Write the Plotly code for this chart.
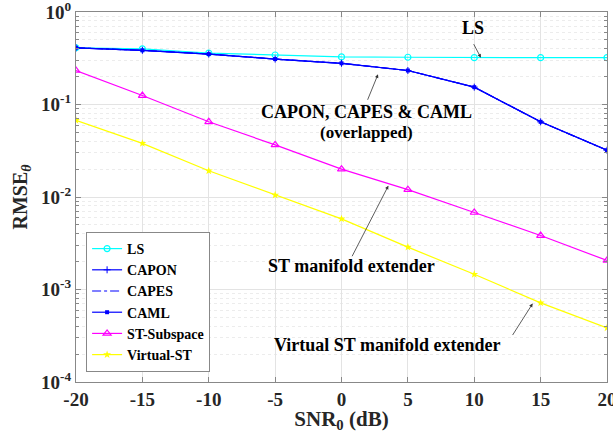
import plotly.graph_objects as go
import numpy as np

snr = [-20, -15, -10, -5, 0, 5, 10, 15, 20]
ls_vals = [0.41, 0.40, 0.36, 0.343, 0.327, 0.324, 0.321, 0.321, 0.321]
capon_vals = [0.41, 0.385, 0.351, 0.31, 0.279, 0.233, 0.154, 0.065, 0.032]
capes_vals = [0.41, 0.385, 0.351, 0.31, 0.279, 0.233, 0.154, 0.065, 0.032]
caml_vals = [0.41, 0.385, 0.351, 0.31, 0.279, 0.233, 0.154, 0.065, 0.032]
st_sub_vals = [0.233, 0.125, 0.065, 0.0366, 0.020, 0.012, 0.0068, 0.00383, 0.00206]
virtual_st_vals = [0.0675, 0.038, 0.0192, 0.0105, 0.0058, 0.00287, 0.00146, 0.000716, 0.000385]

x_ticks = [-20, -15, -10, -5, 0, 5, 10, 15, 20]
y_ticks = [1e-4, 1e-3, 1e-2, 1e-1, 1]
y_ticktext = ["10<sup>-4</sup>", "10<sup>-3</sup>", "10<sup>-2</sup>", "10<sup>-1</sup>", "10<sup>0</sup>"]
y_minor = [m * 10.0 ** e for e in range(-4, 0) for m in range(2, 10)]

FONT = "Liberation Serif"

fig = go.Figure()
fig.add_trace(go.Scatter(x=snr, y=ls_vals, name="LS", mode="lines+markers",
                         line=dict(color="#00FFFF", width=1.2),
                         marker=dict(symbol="circle-open", size=6, color="#00FFFF", line=dict(width=1.2))))
fig.add_trace(go.Scatter(x=snr, y=capon_vals, name="CAPON", mode="lines+markers",
                         line=dict(color="#0000FF", width=1.2),
                         marker=dict(symbol="cross-thin", size=5, color="#0000FF", line=dict(width=1, color="#0000FF"))))
fig.add_trace(go.Scatter(x=snr, y=capes_vals, name="CAPES", mode="lines",
                         line=dict(color="#0000FF", width=1.2, dash="dashdot")))
fig.add_trace(go.Scatter(x=snr, y=caml_vals, name="CAML", mode="lines+markers",
                         line=dict(color="#0000FF", width=1.2),
                         marker=dict(symbol="square", size=4, color="#0000FF")))
fig.add_trace(go.Scatter(x=snr, y=st_sub_vals, name="ST-Subspace", mode="lines+markers",
                         line=dict(color="#FF00FF", width=1.2),
                         marker=dict(symbol="triangle-up-open", size=7, color="#FF00FF", line=dict(width=1.2))))
fig.add_trace(go.Scatter(x=snr, y=virtual_st_vals, name="Virtual-ST", mode="lines+markers",
                         line=dict(color="#FFFF00", width=1.2),
                         marker=dict(symbol="star", size=6, color="#FFFF00")))

# Text labels (x in data units, y as log10 of value on the log axis)
texts = [
    ("LS", 9.9, -0.17, 18),
    ("CAPON, CAPES & CAML", 1.85, -1.085, 18),
    ("(overlapped)", 1.85, -1.307, 17),
    ("ST manifold extender", 0.72, -2.745, 18),
    ("Virtual ST manifold extender", 3.5, -3.605, 18),
]
for t, xv, yv, fs in texts:
    fig.add_annotation(x=xv, y=yv, text=t, showarrow=False,
                       font=dict(family=FONT, size=fs, color="black", weight="bold"), xref="x", yref="y")

# Arrows (tip in data coords, tail as pixel offset)
arrows = [
    (10.5, 0.321, -8, -15),
    (2.75, 0.212, -11, 27),
    (3.53, 0.01324, -37, 72),
    (14.4, 0.000705, -21, 33),
]
for xv, yv, ax, ay in arrows:
    fig.add_annotation(x=xv, y=np.log10(yv), text="", showarrow=True, ax=ax, ay=ay,
                       arrowhead=2, arrowsize=0.9, arrowwidth=0.8, arrowcolor="#333333",
                       xref="x", yref="y")

axis_common = dict(showline=True, linecolor="#888888", linewidth=1, mirror="ticks",
                   ticks="inside", ticklen=5, tickcolor="#888888",
                   gridcolor="#e3e3e3", gridwidth=1, zeroline=False,
                   automargin=False, ticklabeloverflow="allow",
                   tickfont=dict(family=FONT, size=19, color="#262626", weight="bold"))

fig.update_xaxes(range=[-20, 20], tickvals=x_ticks, ticktext=[str(v) for v in x_ticks],
                 title=dict(text="SNR<sub>0</sub> (dB)", font=dict(family=FONT, size=21, color="#262626", weight="bold"),
                            standoff=2),
                 **axis_common)
fig.update_yaxes(type="log", range=[-4, 0], tickvals=y_ticks, ticktext=y_ticktext,
                 title=dict(text="RMSE<sub><i>θ</i></sub>", font=dict(family=FONT, size=20, color="#262626", weight="bold"),
                            standoff=8),
                 minor=dict(tickvals=y_minor, ticks="inside", ticklen=3, tickcolor="#888888",
                            showgrid=True, gridcolor="#ececec", griddash="dot"),
                 **axis_common)

fig.update_layout(
    width=613, height=433,
    margin=dict(l=76, r=6, t=12, b=51),
    plot_bgcolor="white", paper_bgcolor="white",
    font=dict(family=FONT, color="black"),
    showlegend=True,
    legend=dict(x=0.019, y=0.027, xanchor="left", yanchor="bottom",
                bgcolor="white", bordercolor="#888888", borderwidth=1,
                font=dict(family=FONT, size=14, color="black", weight="bold"),
                tracegroupgap=0, itemwidth=30),
)

fig.write_html("out.html")
